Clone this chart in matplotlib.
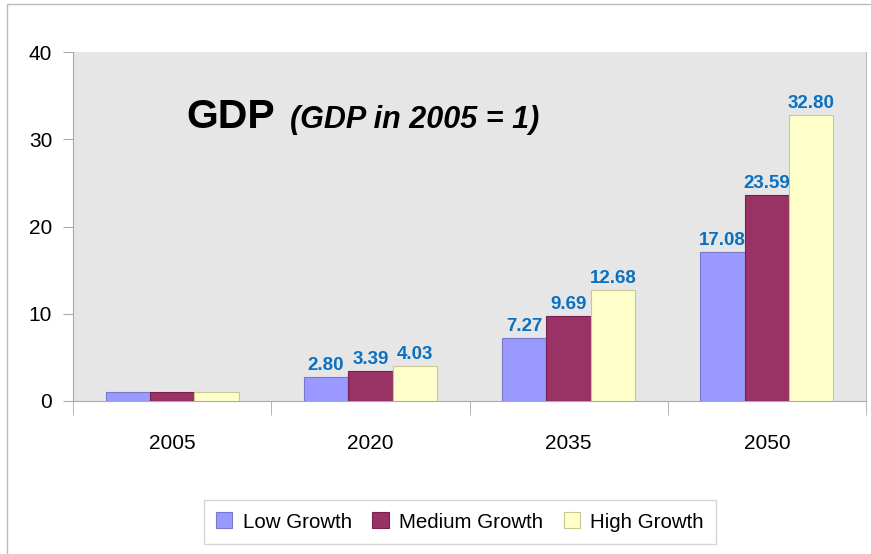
import matplotlib
matplotlib.use("Agg")
import matplotlib.pyplot as plt
from matplotlib.patches import Rectangle
import numpy as np

plt.rcParams['font.family'] = ['Liberation Sans', 'DejaVu Sans']

years = ["2005", "2020", "2035", "2050"]
low_growth = [1.00, 2.80, 7.27, 17.08]
medium_growth = [1.00, 3.39, 9.69, 23.59]
high_growth = [1.00, 4.03, 12.68, 32.80]
series_names = ["Low Growth", "Medium Growth", "High Growth"]
label_show = [False, True, True, True]

W, H = 871, 554
fig = plt.figure(figsize=(W / 100, H / 100), dpi=100)
fig.patch.set_facecolor('white')

# outer chart border
fig.patches.append(Rectangle((7 / W, -0.05), 2, 1 - 4 / H + 0.05, transform=fig.transFigure,
                             fill=False, edgecolor='#BBBBBB', linewidth=1.0))

ax = fig.add_axes([73 / W, 1 - 401 / H, (866 - 73) / W, (401 - 52) / H])
ax.set_facecolor('#E6E6E6')

x = np.arange(len(years))
bw = 0.2236
colors = ['#9999FF', '#993366', '#FFFFCC']
edges = ['#7777CC', '#7A2050', '#C8C890']
data = [low_growth, medium_growth, high_growth]
for i, (vals, c, e, name) in enumerate(zip(data, colors, edges, series_names)):
    pos = x + (i - 1) * bw
    ax.bar(pos, vals, width=bw, color=c, edgecolor=e, linewidth=0.8, label=name, zorder=3)
    for p, v, show in zip(pos, vals, label_show):
        if show:
            ax.text(p, v + 0.35, f"{v:.2f}", ha='center', va='bottom', color='#0A70C0',
                    fontsize=13.5, fontweight='bold', zorder=4)

ax.set_xlim(-0.5, len(years) - 0.5)
ax.set_ylim(0, 40)
ax.set_yticks([0, 10, 20, 30, 40])
ax.tick_params(axis='y', labelsize=15, length=7, color='#AAAAAA', pad=8)
ax.set_xticks(x)
ax.set_xticklabels(years)
ax.tick_params(axis='x', which='major', length=0, labelsize=15, pad=24)
ax.set_xticks(np.arange(-0.5, len(years)), minor=True)
ax.tick_params(axis='x', which='minor', length=10, color='#AAAAAA')

ax.spines['top'].set_visible(False)
ax.spines['right'].set_color('#BBBBBB')
ax.spines['left'].set_color('#AAAAAA')
ax.spines['bottom'].set_color('#AAAAAA')

# title inside plot
ax.text((186 - 73) / (866 - 73), (401 - 128) / (401 - 52), "GDP", transform=ax.transAxes,
        fontsize=29.5, fontweight='bold', ha='left', va='baseline', zorder=5)
ax.text((290 - 73) / (866 - 73), (401 - 128) / (401 - 52), "(GDP in 2005 = 1)", transform=ax.transAxes,
        fontsize=22, fontweight='bold', fontstyle='italic', ha='left', va='baseline', zorder=5)

leg = fig.legend(loc='center', bbox_to_anchor=(460 / W, 1 - 522 / H), ncol=3, fontsize=14.8,
                 frameon=True, fancybox=False, edgecolor='#CCCCCC', handlelength=0.8,
                 handleheight=0.8, handletextpad=0.5, columnspacing=1.0, borderpad=0.6)
leg.get_frame().set_linewidth(1.0)

fig.savefig('out.png', dpi=100)
